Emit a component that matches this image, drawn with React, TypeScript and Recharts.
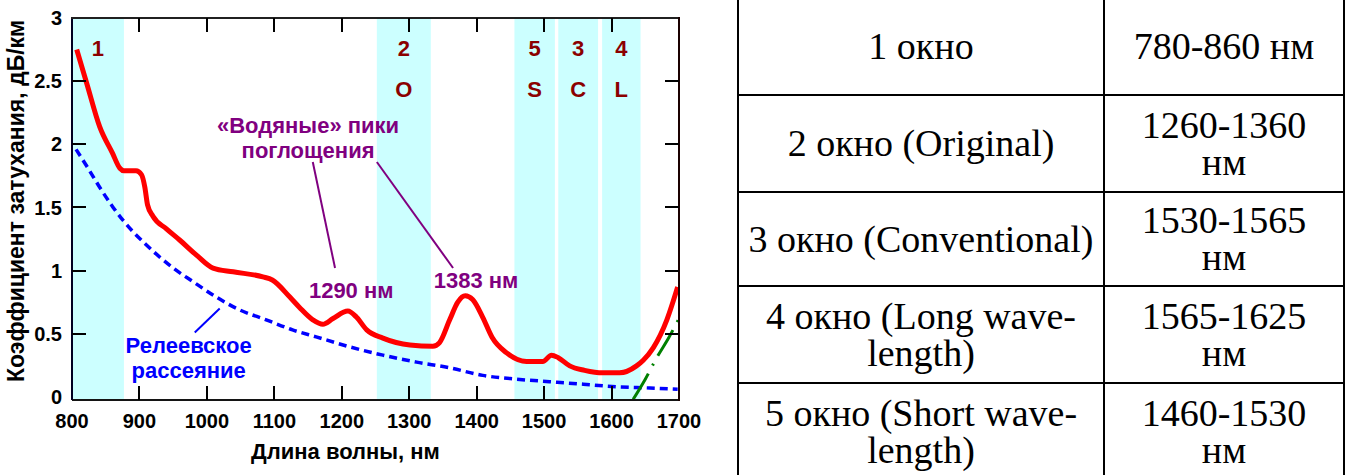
import {
  LineChart,
  Line,
  XAxis,
  YAxis,
  ReferenceArea,
  ReferenceLine,
  ReferenceDot,
  Label,
} from 'recharts';

// total attenuation of the fibre, dB/km
const lossWavelengths = [
  807, 822, 841, 860, 871, 877, 895, 903, 908, 912, 920, 940, 960, 985, 1009, 1039, 1083, 1097,
  1123, 1137, 1157, 1172, 1187, 1209, 1222, 1237, 1261, 1301, 1335, 1345, 1360, 1372, 1383, 1394,
  1409, 1423, 1444, 1474, 1498, 1511, 1521, 1538, 1560, 1587, 1612, 1637, 1647, 1662, 1682, 1698,
];
const lossValues = [
  2.75, 2.48, 2.14, 1.93, 1.81, 1.79, 1.79, 1.76, 1.66, 1.52, 1.43, 1.33, 1.24, 1.12, 1.02, 0.99,
  0.95, 0.925, 0.79, 0.71, 0.61, 0.575, 0.62, 0.68, 0.63, 0.53, 0.465, 0.41, 0.4, 0.43, 0.61, 0.75,
  0.8, 0.77, 0.63, 0.47, 0.35, 0.28, 0.28, 0.33, 0.31, 0.245, 0.21, 0.19, 0.19, 0.245, 0.29, 0.39,
  0.61, 0.87,
];

// Rayleigh scattering
const rayleighWavelengths = [
  806, 825, 841, 861, 890, 905, 950, 980, 1014, 1048, 1088, 1127, 1162, 1209, 1261, 1311, 1360,
  1409, 1459, 1508, 1558, 1607, 1657, 1698,
];
const rayleighValues = [
  1.96, 1.8, 1.66, 1.5, 1.31, 1.23, 1.02, 0.91, 0.79, 0.69, 0.61, 0.53, 0.475, 0.4, 0.33, 0.275,
  0.23, 0.17, 0.14, 0.12, 0.1, 0.08, 0.07, 0.06,
];

// infrared absorption tail
const irWavelengths = [1632, 1650, 1667, 1685, 1700];
const irValues = [-0.02, 0.14, 0.31, 0.47, 0.62];

// transparency windows
const bandFrom = [800, 1252, 1456, 1521, 1586];
const bandTo = [877, 1332, 1516, 1580, 1643];
const bandNumbers = ['1', '2', '5', '3', '4'];
const bandLetters = ['', 'O', 'S', 'C', 'L'];

const xTicks = [800, 900, 1000, 1100, 1200, 1300, 1400, 1500, 1600, 1700];
const yTicks = [0, 0.5, 1, 1.5, 2, 2.5, 3];

const windowNames = [
  ['1 окно'],
  ['2 окно (Original)'],
  ['3 окно (Conventional)'],
  ['4 окно (Long wave-', 'length)'],
  ['5 окно (Short wave-', 'length)'],
];
const windowRanges = [
  ['780-860 нм'],
  ['1260-1360', 'нм'],
  ['1530-1565', 'нм'],
  ['1565-1625', 'нм'],
  ['1460-1530', 'нм'],
];

const FONT = '"Liberation Sans", Arial, sans-serif';
const SERIF = '"Liberation Serif", "Times New Roman", serif';
const PURPLE = '#800080';
const BLUE = '#0000ff';
const MAROON = '#8b0000';
const INK = '#000000';

const X_MIN = 800;
const X_MAX = 1700;
const Y_MIN = -0.025;
const Y_MAX = 3;

// plot box inside the chart (px), from the chart margins and axis sizes
const PLOT_LEFT = 72;
const PLOT_TOP = 18;
const PLOT_W = 607;
const PLOT_H = 382;
const TICK_PX = 14;

const lossData = lossWavelengths.map((x, i) => ({ x, y: lossValues[i] }));
const rayleighData = rayleighWavelengths.map((x, i) => ({ x, y: rayleighValues[i] }));
const irData = irWavelengths.map((x, i) => ({ x, y: irValues[i] }));
const innerX = xTicks.filter((v) => v > X_MIN && v < X_MAX);
const innerY = yTicks.filter((v) => v > 0 && v < Y_MAX);

const tickText = { fontFamily: FONT, fontSize: 20, fontWeight: 700, fill: INK };
const labelText = { fontFamily: FONT, fontSize: 22, fontWeight: 700 };

const BottomTick = ({ x, y, payload }: any) => (
  <text x={x} y={y} dy="0.71em" textAnchor="middle" {...tickText}>
    {payload.value}
  </text>
);

const LeftTick = ({ x, y, payload }: any) => (
  <text x={x} y={y} dy="0.355em" textAnchor="end" {...tickText}>
    {payload.value}
  </text>
);

const Note = ({ x, y, text, color }: { x: number; y: number; text: string; color: string }) => (
  <ReferenceDot
    x={x}
    y={y}
    r={0}
    fill="none"
    stroke="none"
    ifOverflow="visible"
    label={{ value: text, position: 'center', fill: color, ...labelText }}
  />
);

// frame sides and inward ticks over the plot box
function PlotFrame() {
  const px = (v: number) => PLOT_LEFT + ((v - X_MIN) / (X_MAX - X_MIN)) * PLOT_W;
  const py = (v: number) => PLOT_TOP + PLOT_H - ((v - Y_MIN) / (Y_MAX - Y_MIN)) * PLOT_H;
  const mark = (left: number, top: number, width: number, height: number, key: string, color = INK) => (
    <div key={key} style={{ position: 'absolute', left, top, width, height, background: color }} />
  );
  return (
    <div
      style={{
        position: 'absolute',
        left: 0,
        top: 0,
        width: 720,
        height: 475,
        zIndex: 10,
        pointerEvents: 'none',
      }}
    >
      {mark(PLOT_LEFT - 1, PLOT_TOP - 1, PLOT_W + 2, 2, 'top', '#202020')}
      {mark(PLOT_LEFT + PLOT_W - 1, PLOT_TOP - 1, 2, PLOT_H + 2, 'right', '#1a0000')}
      {innerX.map((v) => mark(px(v) - 1, PLOT_TOP + PLOT_H - TICK_PX, 2, TICK_PX, `b${v}`))}
      {innerX.map((v) => mark(px(v) - 1, PLOT_TOP, 2, TICK_PX, `t${v}`))}
      {innerY.map((v) => mark(PLOT_LEFT, py(v) - 1, TICK_PX, 2, `l${v}`))}
      {innerY.map((v) => mark(PLOT_LEFT + PLOT_W - TICK_PX, py(v) - 1, TICK_PX, 2, `r${v}`))}
    </div>
  );
}

const rowEdges = [-4, 94, 191, 285, 382, 479];
const TABLE_LEFT = 737;
const TABLE_SPLIT = 1103;
const TABLE_RIGHT = 1345;

function TableCell({ lines, width, last }: { lines: string[]; width: number; last?: boolean }) {
  return (
    <div
      style={{
        width,
        height: '100%',
        boxSizing: 'border-box',
        borderLeft: '2px solid #000',
        borderRight: last ? '2px solid #000' : undefined,
        display: 'flex',
        flexDirection: 'column',
        alignItems: 'center',
        justifyContent: 'center',
        fontFamily: SERIF,
        fontSize: 38,
        lineHeight: '37px',
        color: '#000',
        whiteSpace: 'nowrap',
      }}
    >
      {lines.map((l) => (
        <div key={l}>{l}</div>
      ))}
    </div>
  );
}

export default function App() {
  return (
    <div
      style={{
        position: 'absolute',
        left: 0,
        top: 0,
        width: 1351,
        height: 475,
        background: '#fff',
        overflow: 'hidden',
      }}
    >
      <div style={{ position: 'absolute', left: 0, top: 0, width: 720, height: 475 }}>
        <LineChart
          width={720}
          height={475}
          margin={{ top: PLOT_TOP, right: 720 - PLOT_LEFT - PLOT_W, bottom: 15, left: 0 }}
          style={{ fontFamily: FONT }}
        >
          {bandFrom.map((from, i) => (
            <ReferenceArea
              key={from}
              x1={from}
              x2={bandTo[i]}
              fill="#ccffff"
              fillOpacity={1}
              stroke="none"
            >
              <Label value={bandNumbers[i]} position="insideTop" offset={22} fill={MAROON} {...labelText} />
              {bandLetters[i] && (
                <Label value={bandLetters[i]} position="insideTop" offset={63} fill={MAROON} {...labelText} />
              )}
            </ReferenceArea>
          ))}

          <XAxis
            type="number"
            dataKey="x"
            domain={[X_MIN, X_MAX]}
            allowDataOverflow
            ticks={xTicks}
            interval={0}
            height={60}
            tickSize={0}
            tickMargin={14}
            tickLine={false}
            axisLine={{ stroke: '#141414', strokeWidth: 2 }}
            tick={<BottomTick />}
          >
            <Label
              value="Длина волны, нм"
              position="insideBottom"
              offset={1}
              dx={-30}
              fill={INK}
              {...labelText}
            />
          </XAxis>
          <YAxis
            type="number"
            domain={[Y_MIN, Y_MAX]}
            allowDataOverflow
            ticks={yTicks}
            interval={0}
            width={PLOT_LEFT}
            tickSize={0}
            tickMargin={10}
            tickLine={false}
            axisLine={{ stroke: '#000022', strokeWidth: 2 }}
            tick={<LeftTick />}
          >
            <Label
              value="Коэффициент затухания, дБ/км"
              angle={-90}
              position="insideLeft"
              offset={16}
              dy={-8}
              fill={INK}
              style={{ textAnchor: 'middle' }}
              {...labelText}
              fontSize={23}
            />
          </YAxis>

          <Line
            data={rayleighData}
            dataKey="y"
            type="monotone"
            stroke={BLUE}
            strokeWidth={3.5}
            strokeDasharray="8 5"
            dot={false}
            isAnimationActive={false}
          />
          <Line
            data={irData}
            dataKey="y"
            type="monotone"
            stroke="#008000"
            strokeWidth={3}
            strokeDasharray="30 9 2 9"
            dot={false}
            isAnimationActive={false}
          />
          <Line
            data={lossData}
            dataKey="y"
            type="monotone"
            stroke="#ff0000"
            strokeWidth={5}
            dot={false}
            isAnimationActive={false}
          />

          <ReferenceLine
            segment={[{ x: 1157, y: 1.86 }, { x: 1190, y: 1.02 }]}
            stroke={PURPLE}
            strokeWidth={2}
            ifOverflow="visible"
          />
          <ReferenceLine
            segment={[{ x: 1252, y: 1.86 }, { x: 1365, y: 1.02 }]}
            stroke={PURPLE}
            strokeWidth={2}
            ifOverflow="visible"
          />
          <ReferenceLine
            segment={[{ x: 982, y: 0.51 }, { x: 1019, y: 0.7 }]}
            stroke={BLUE}
            strokeWidth={2}
            ifOverflow="visible"
          />

          <Note x={1150} y={2.15} text="«Водяные» пики" color={PURPLE} />
          <Note x={1150} y={1.95} text="поглощения" color={PURPLE} />
          <Note x={1214} y={0.845} text="1290 нм" color={PURPLE} />
          <Note x={1399} y={0.925} text="1383 нм" color={PURPLE} />
          <Note x={973} y={0.41} text="Релеевское" color={BLUE} />
          <Note x={973} y={0.21} text="рассеяние" color={BLUE} />
        </LineChart>
        <PlotFrame />
      </div>

      {windowNames.map((name, i) => (
        <div
          key={i}
          style={{
            position: 'absolute',
            left: TABLE_LEFT,
            top: rowEdges[i],
            width: TABLE_RIGHT - TABLE_LEFT,
            height: rowEdges[i + 1] - rowEdges[i],
            boxSizing: 'border-box',
            borderTop: '2px solid #000',
            display: 'flex',
          }}
        >
          <TableCell lines={name} width={TABLE_SPLIT - TABLE_LEFT} />
          <TableCell lines={windowRanges[i]} width={TABLE_RIGHT - TABLE_SPLIT} last />
        </div>
      ))}
    </div>
  );
}
